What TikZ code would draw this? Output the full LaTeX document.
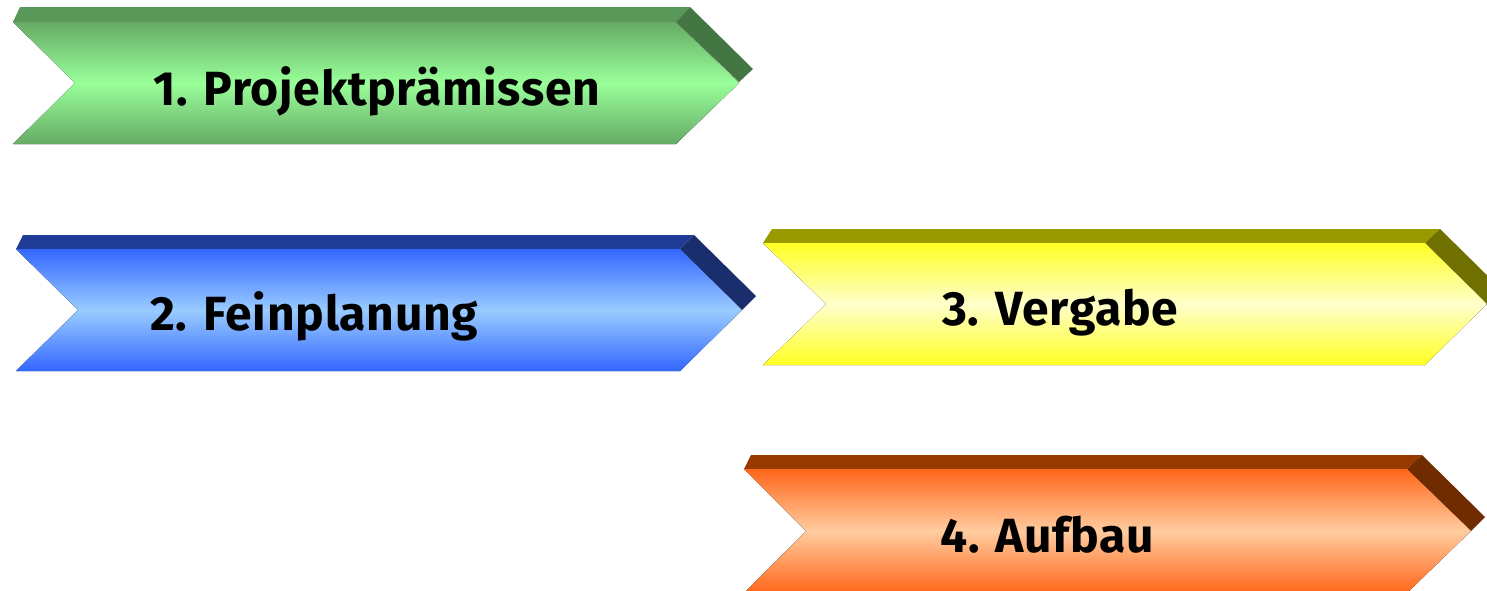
\documentclass[tikz,border=0pt]{standalone}
\usepackage{fontspec}
\setmainfont{Fira Sans}[LetterSpace=1.5]
\usetikzlibrary{positioning}

\begin{document}
\begin{tikzpicture}[x=1pt, y=-1pt,
label/.style={anchor=base west, inner sep=0pt, font=\bfseries\fontsize{48}{48}\selectfont, text=black},
face1/.style={top color={rgb,255:red,102;green,170;blue,102}, bottom color={rgb,255:red,102;green,170;blue,102}, middle color={rgb,255:red,153;green,255;blue,153}},
band1/.style={fill={rgb,255:red,90;green,152;blue,90}},
side1/.style={fill={rgb,255:red,68;green,118;blue,68}},
face2/.style={top color={rgb,255:red,51;green,102;blue,255}, bottom color={rgb,255:red,51;green,102;blue,255}, middle color={rgb,255:red,153;green,204;blue,255}},
band2/.style={fill={rgb,255:red,31;green,60;blue,150}},
side2/.style={fill={rgb,255:red,26;green,46;blue,110}},
face3/.style={top color={rgb,255:red,255;green,255;blue,34}, bottom color={rgb,255:red,255;green,255;blue,34}, middle color={rgb,255:red,255;green,255;blue,204}},
band3/.style={fill={rgb,255:red,153;green,153;blue,0}},
side3/.style={fill={rgb,255:red,112;green,112;blue,0}},
face4/.style={top color={rgb,255:red,255;green,102;blue,25}, bottom color={rgb,255:red,255;green,102;blue,25}, middle color={rgb,255:red,255;green,204;blue,160}},
band4/.style={fill={rgb,255:red,150;green,58;blue,0}},
side4/.style={fill={rgb,255:red,112;green,44;blue,0}},
]
\useasboundingbox[fill=white] (0,0) rectangle (1487,590);
\clip (0,0) rectangle (1487,590);

% 1. Projektpraemissen
\fill[band1] (13,22) -- ++(7,-15) -- ++(670,0) -- ++(-14,15) -- cycle;
\fill[side1] (676,22) -- ++(14,-15) -- ++(63,62) -- ++(-14,13) -- cycle;
\fill[face1] (13,22) -- ++(663,0) -- ++(63,61) -- ++(-63,61) -- ++(-663,0) -- ++(62,-61) -- cycle;
\node[label](t1) at (153,105) {1. Projektprämissen};

% 2. Feinplanung
\fill[band2] (16,249) -- ++(7,-14) -- ++(671,0) -- ++(-14,14) -- cycle;
\fill[side2] (680,249) -- ++(14,-14) -- ++(62,61) -- ++(-14,14) -- cycle;
\fill[face2] (16,249) -- ++(664,0) -- ++(62,61) -- ++(-62,61) -- ++(-664,0) -- ++(62,-61) -- cycle;
\node[label](t2) at (150,330) {2. Feinplanung};

% 3. Vergabe
\fill[band3] (763,243) -- ++(9,-14) -- ++(668,0) -- ++(-15,14) -- cycle;
\fill[side3] (1425,243) -- ++(15,-14) -- ++(62,61) -- ++(-15,14) -- cycle;
\fill[face3] (763,243) -- ++(662,0) -- ++(62,61) -- ++(-62,61) -- ++(-662,0) -- ++(63,-61) -- cycle;
\node[label](t3) at (942,325) {3. Vergabe};

% 4. Aufbau
\fill[band4] (744,469) -- ++(7,-14) -- ++(671,0) -- ++(-15,14) -- cycle;
\fill[side4] (1407,469) -- ++(15,-14) -- ++(63,62) -- ++(-14,14) -- cycle;
\fill[face4] (744,469) -- ++(663,0) -- ++(64,62) -- ++(-64,62) -- ++(-663,0) -- ++(62,-62) -- cycle;
\node[label](t4) at (940,552) {4. Aufbau};
\end{tikzpicture}
\end{document}
